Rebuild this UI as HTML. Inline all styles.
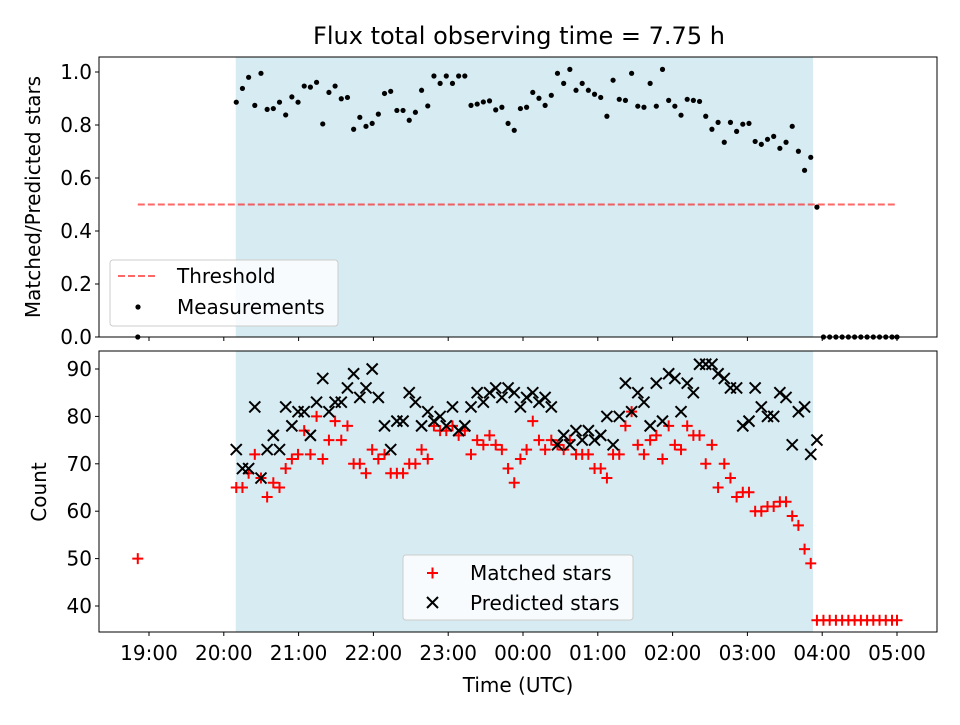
<!DOCTYPE html>
<html><head><meta charset="utf-8"><style>
body{margin:0;background:#fff}
svg text{font-family:"DejaVu Sans","Liberation Sans",sans-serif;fill:#000}
</style></head><body>
<svg id="chart" width="960" height="720" viewBox="0 0 960 720" xmlns="http://www.w3.org/2000/svg"></svg>
<script>
const ratioVals=[0.886,0.938,0.98,0.874,0.995,0.859,0.862,0.886,0.838,0.906,0.886,0.947,0.943,0.961,0.804,0.923,0.947,0.899,0.904,0.784,0.829,0.795,0.806,0.841,0.919,0.927,0.855,0.855,0.818,0.848,0.931,0.872,0.985,0.957,0.985,0.957,0.985,0.985,0.874,0.879,0.887,0.891,0.857,0.867,0.806,0.78,0.862,0.867,0.923,0.901,0.874,0.912,0.995,0.957,1.01,0.931,0.957,0.931,0.916,0.904,0.833,0.969,0.897,0.893,0.995,0.871,0.867,0.957,0.871,1.01,0.893,0.871,0.837,0.897,0.893,0.889,0.833,0.784,0.81,0.735,0.81,0.776,0.803,0.806,0.738,0.727,0.746,0.757,0.712,0.735,0.795,0.701,0.629,0.678,0.49];
const matchedVals=[65,65,68,72,67,63,66,65,69,71,72,77,72,80,71,75,79,75,78,70,70,68,73,71,72,68,68,68,70,70,73,71,78,77,77,78,76,77,72,75,74,76,74,73,69,66,71,73,79,75,73,75,74,73,75,72,72,72,69,69,67,72,72,78,81,74,72,75,76,71,78,74,73,78,76,76,70,74,65,70,67,63,64,64,60,60,61,61,62,62,59,57,52,49,37];
const predictedVals=[73,69,69,82,67,73,76,73,82,78,81,81,76,83,88,81,83,83,86,89,84,86,90,84,78,73,79,79,85,83,78,81,79,80,78,82,77,78,82,85,83,85,86,84,86,85,82,84,85,83,84,82,74,76,74,77,75,77,75,76,80,74,80,87,81,85,83,78,87,79,89,88,81,87,85,91,91,91,89,88,86,86,78,79,86,82,80,80,85,84,74,81,82,72,75];
const tailMinutes=[471,476,481,486,491,496,501,506,511,516,521,526,530];
const tailRatio=[0,0,0,0,0,0,0,0,0,0,0,0,0];
const tailMatched=[37,37,37,37,37,37,37,37,37,37,37,37,37];
const earlyMinute=[-79];
const earlyRatio=[0];
const earlyMatched=[50];
const xTickLabels=["19:00","20:00","21:00","22:00","23:00","00:00","01:00","02:00","03:00","04:00","05:00"];
const topTicks=[0,0.2,0.4,0.6,0.8,1.0];
const botTicks=[40,50,60,70,80,90];
const threshold=0.5;
const STEP=4.955;

const NS="http://www.w3.org/2000/svg";
const svg=document.getElementById('chart');
function el(tag,attrs,parent){const e=document.createElementNS(NS,tag);for(const k in attrs)e.setAttribute(k,attrs[k]);(parent||svg).appendChild(e);return e;}
const X=m=>149+m*74.8/60;
const T0=70;
const YT=v=>337-v*265;
const YB=v=>606-(v-40)*4.74;
const L=99,R=937;

const tt=el('text',{x:519,y:44,'text-anchor':'middle','font-size':24});tt.textContent='Flux total observing time = 7.75 h';



function panel(top,bot,name){
  const g=el('g',{});
  
  
  const sh=el('rect',{x:X(T0)-0.5,y:top,width:813-X(T0)+0.5,height:bot-top,fill:'#add8e6','fill-opacity':0.5},g);
  
  
  return g;
}
const gTop=panel(57,337,'ratio-panel');
const gBot=panel(351,632,'count-panel');

const th=el('line',{x1:X(-9),x2:X(600),y1:YT(threshold),y2:YT(threshold),stroke:'#ff0000','stroke-opacity':0.6,'stroke-width':2,'stroke-dasharray':'7,3'},gTop);



function dot(m,v,g){const c=el('circle',{cx:X(m),cy:YT(v),r:2.6,fill:'#000'},g);

}
ratioVals.forEach((v,i)=>dot(T0+i*STEP,v,gTop));
tailRatio.forEach((v,i)=>dot(T0+tailMinutes[i],v,gTop));
earlyRatio.forEach((v,i)=>dot(T0+earlyMinute[i],v,gTop));

function plus(m,v,g){const x=X(m),y=YB(v);const p=el('path',{d:`M${x-5.5},${y}H${x+5.5}M${x},${y-5.5}V${y+5.5}`,stroke:'#ff0000','stroke-width':2,fill:'none'},g);

}
function cross(m,v,g){const x=X(m),y=YB(v);const p=el('path',{d:`M${x-5.5},${y-5.5}L${x+5.5},${y+5.5}M${x-5.5},${y+5.5}L${x+5.5},${y-5.5}`,stroke:'#000','stroke-width':2,fill:'none'},g);

}
matchedVals.forEach((v,i)=>plus(T0+i*STEP,v,gBot));
tailMatched.forEach((v,i)=>plus(T0+tailMinutes[i],v,gBot));
earlyMatched.forEach((v,i)=>plus(T0+earlyMinute[i],v,gBot));
predictedVals.forEach((v,i)=>cross(T0+i*STEP,v,gBot));

function frame(top,bot,name){const r=el('rect',{x:L,y:top,width:R-L,height:bot-top,fill:'none',stroke:'#000','stroke-width':1});

}
frame(57,337,'ratio-axes-frame');frame(351,632,'count-axes-frame');
xTickLabels.forEach((lab,i)=>{const x=X(i*60);
  el('line',{x1:x,x2:x,y1:337,y2:341,stroke:'#000'});
  el('line',{x1:x,x2:x,y1:632,y2:636,stroke:'#000'});
  const t=el('text',{x:x,y:660,'text-anchor':'middle','font-size':20});t.textContent=lab;
  
  
});
topTicks.forEach(v=>{const y=YT(v);el('line',{x1:L-4,x2:L,y1:y,y2:y,stroke:'#000'});
  const t=el('text',{x:L-7,y:y+7,'text-anchor':'end','font-size':20});t.textContent=v.toFixed(1);
  
  });
botTicks.forEach(v=>{const y=YB(v);el('line',{x1:L-4,x2:L,y1:y,y2:y,stroke:'#000'});
  const t=el('text',{x:L-7,y:y+7,'text-anchor':'end','font-size':20});t.textContent=v;
  
  });
let t=el('text',{x:518,y:692,'text-anchor':'middle','font-size':20});t.textContent='Time (UTC)';


t=el('text',{x:0,y:0,'text-anchor':'middle','font-size':20,transform:'translate(40,197) rotate(-90)'});t.textContent='Matched/Predicted stars';


t=el('text',{x:0,y:0,'text-anchor':'middle','font-size':20,transform:'translate(46,492) rotate(-90)'});t.textContent='Count';



function legend(x,y,w,h,name){const g=el('g',{});


el('rect',{x:x,y:y,width:w,height:h,rx:3,fill:'#fff','fill-opacity':0.8,stroke:'#ccc'},g);return g;}
let lg=legend(110,260,228,66,'top-legend');
el('line',{x1:118,x2:158,y1:276,y2:276,stroke:'#ff0000','stroke-opacity':0.6,'stroke-width':2,'stroke-dasharray':'7,3'},lg);
t=el('text',{x:177,y:283,'font-size':20},lg);t.textContent='Threshold';


el('circle',{cx:138,cy:307,r:2.6,fill:'#000'},lg);
t=el('text',{x:177,y:314,'font-size':20},lg);t.textContent='Measurements';


lg=legend(403,555,230,65,'bottom-legend');
el('path',{d:'M427,573H438M432.5,567.5V578.5',stroke:'#ff0000','stroke-width':2},lg);
t=el('text',{x:470,y:580,'font-size':20},lg);t.textContent='Matched stars';


el('path',{d:'M427,597L438,608M427,608L438,597',stroke:'#000','stroke-width':2},lg);
t=el('text',{x:470,y:610,'font-size':20},lg);t.textContent='Predicted stars';


</script>
</body></html>
